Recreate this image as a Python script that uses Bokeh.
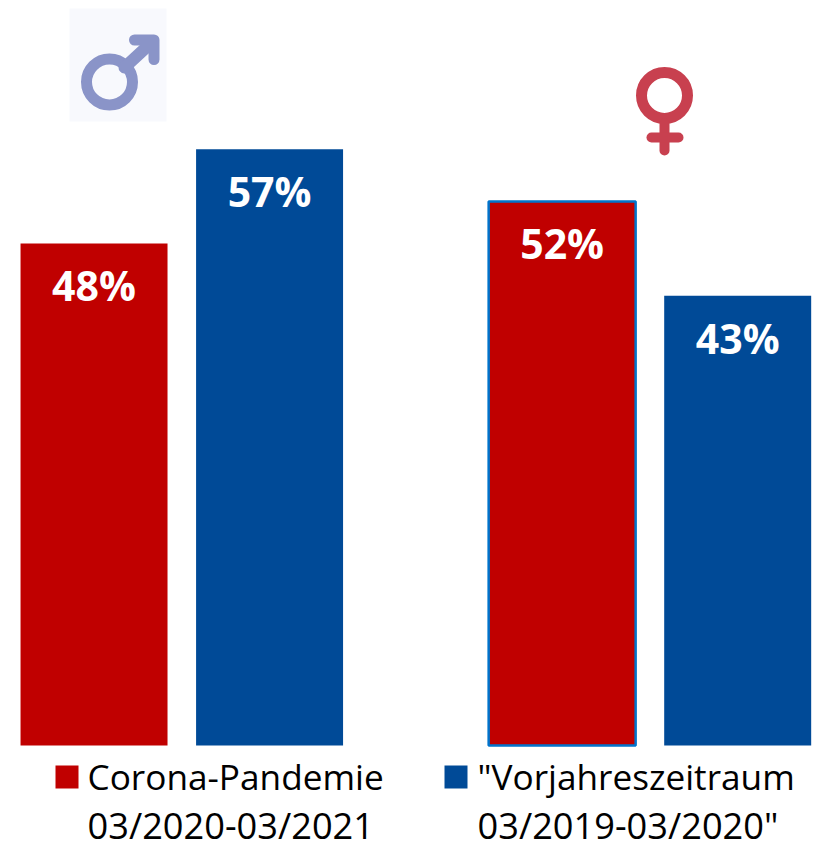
from bokeh.plotting import figure
from bokeh.models import Range1d, ColumnDataSource
from bokeh.transform import dodge
from bokeh.core.properties import value
from bokeh.embed import file_html
from bokeh.resources import INLINE

# --- data ---
groups = [0, 1]                 # male, female
corona = [48, 52]
previous = [57, 43]
corona_labels = ["48%", "52%"]
previous_labels = ["57%", "43%"]
legend_names = ["Corona-Pandemie", '"Vorjahreszeitraum']
legend_periods = ["03/2020-03/2021", '03/2019-03/2020"']

RED = "#C00000"
BLUE = "#004A97"
OFFSET = 0.1875
BAR_W = 0.314

p = figure(width=817, height=845, output_backend="svg", toolbar_location=None,
           x_range=Range1d(-0.3873, 1.358), y_range=Range1d(-9.56, 71.22),
           min_border=0, outline_line_color=None, background_fill_color="white",
           border_fill_color="white")
p.axis.visible = False
p.grid.visible = False
p.extra_x_ranges["px"] = Range1d(0, 817)
p.extra_y_ranges["px"] = Range1d(845, 0)

src = ColumnDataSource(dict(g=groups, c=corona, v=previous, cl=corona_labels, vl=previous_labels,
                            edge=[RED, "#0074CC"], ew=[0, 2.5]))

p.vbar(x=dodge("g", -OFFSET, range=p.x_range), top="c", bottom=0, width=BAR_W, source=src,
       fill_color=RED, line_color="edge", line_width="ew")
p.vbar(x=dodge("g", OFFSET, range=p.x_range), top="v", bottom=0, width=BAR_W, source=src,
       fill_color=BLUE, line_color=None)

label_kw = dict(text_color="white", text_font=value("Open Sans"), text_font_style="bold",
                text_font_size="41px", text_align="center", text_baseline="middle", y_offset=-2)
p.text(x=dodge("g", -OFFSET, range=p.x_range), y=dodge("c", -4.2), text="cl", source=src, **label_kw)
p.text(x=dodge("g", OFFSET, range=p.x_range), y=dodge("v", -4.2), text="vl", source=src, **label_kw)

px = dict(x_range_name="px", y_range_name="px")

# male symbol
MALE = "#8A94C8"
p.quad(left=69, right=166, top=8, bottom=121, fill_color="#F8F9FD", line_color=None, **px)
p.circle(x=109, y=81.5, radius=23, radius_units="screen", fill_color=None, line_color=MALE, line_width=11, **px)
p.line(x=[124, 150], y=[67, 43], line_color=MALE, line_width=12, line_cap="round", **px)
p.line(x=[134, 153.5, 153.5], y=[39.5, 39.5, 59], line_color=MALE, line_width=11, line_cap="round", line_join="round", **px)

# female symbol
FEMALE = "#C8404F"
p.circle(x=664, y=95, radius=23, radius_units="screen", fill_color=None, line_color=FEMALE, line_width=11, **px)
p.line(x=[664, 664], y=[123, 150], line_color=FEMALE, line_width=10, line_cap="round", **px)
p.line(x=[651, 678], y=[137, 137], line_color=FEMALE, line_width=10, line_cap="round", **px)

# legend
p.quad(left=55, right=78, top=765, bottom=788, fill_color=RED, line_color=None, **px)
p.quad(left=444, right=467, top=765, bottom=788, fill_color=BLUE, line_color=None, **px)
leg_kw = dict(text_color="black", text_font=value("Open Sans"),
              text_align="left", text_baseline="alphabetic", **px)
p.text(x=[87, 477], y=[775, 775], text=legend_names, text_font_size="35.2px", **leg_kw)
p.text(x=[87, 477], y=[824, 824], text=legend_periods, text_font_size="36.2px", **leg_kw)

open("out.html", "w").write(file_html(p, INLINE))
